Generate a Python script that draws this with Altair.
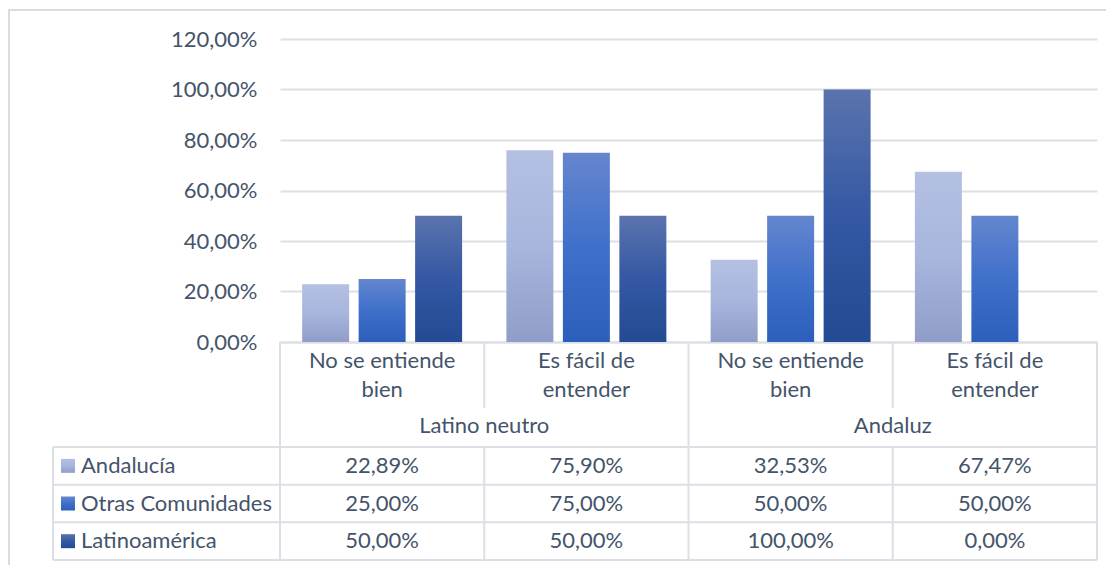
import altair as alt
import pandas as pd

# ---- data ----
groups = ["Latino neutro", "Andaluz"]
subcats = ["No se entiende|bien", "Es fácil de|entender"]
series = ["Andalucía", "Otras Comunidades", "Latinoamérica"]
andalucia = [0.2289, 0.7590, 0.3253, 0.6747]
otras = [0.25, 0.75, 0.50, 0.50]
latam = [0.50, 0.50, 1.00, 0.00]
y_ticks = [0, 0.2, 0.4, 0.6, 0.8, 1.0, 1.2]

keys = [f"{g}|{c}" for g in groups for c in subcats]
values_by_series = {"Andalucía": andalucia, "Otras Comunidades": otras, "Latinoamérica": latam}

rows = []
for s in series:
    for k, v in zip(keys, values_by_series[s]):
        rows.append({"key": k, "serie": s, "value": v})
df = pd.DataFrame(rows)

# ---- styling ----
FONT = "Lato"
FS = 22
TXT = "#44546A"
LINE = "#DCDFE5"
LW = 2

gradients = {
    "Andalucía": ["#B4C0E2", "#A8B5DD", "#8F9DC8"],
    "Otras Comunidades": ["#6586CE", "#3F70CA", "#2C5FBB"],
    "Latinoamérica": ["#5B73AD", "#3458A3", "#244A93"],
}

def grad(cols):
    return alt.Gradient(
        gradient="linear",
        stops=[alt.GradientStop(color=cols[0], offset=0),
               alt.GradientStop(color=cols[1], offset=0.5),
               alt.GradientStop(color=cols[2], offset=1)],
        x1=0, x2=0, y1=0, y2=1,
    )

W, H = 817, 303
xscale = alt.Scale(domain=keys, paddingInner=0, paddingOuter=0)
xaxis = alt.Axis(
    title=None, ticks=False, domain=True, domainColor=LINE, domainWidth=LW,
    labelAngle=0, labelExpr="slice(split(datum.value, '|'), 1)",
    labelFont=FONT, labelFontSize=FS, labelColor=TXT, labelLineHeight=29,
    labelPadding=8, labelLimit=400,
)
yscale = alt.Scale(domain=[0, 1.2])
yaxis = alt.Axis(
    title=None, values=y_ticks, grid=True, gridColor=LINE, gridWidth=LW,
    domain=False, ticks=False, labelPadding=23, labelFont=FONT,
    labelFontSize=FS, labelColor=TXT,
    labelExpr="replace(format(datum.value, '.2%'), '.', ',')",
)

def X(**kw):
    return alt.X("key:N", scale=xscale, axis=xaxis, sort=keys, **kw)

base = alt.Chart(df)

bar_layers = []
for s in series:
    bar_layers.append(
        base.transform_filter(alt.datum.serie == s)
        .mark_bar(fill=grad(gradients[s]))
        .encode(
            x=X(),
            xOffset=alt.XOffset("serie:N", scale=alt.Scale(domain=series, paddingInner=0.168, paddingOuter=0.392)),
            y=alt.Y("value:Q", scale=yscale, axis=yaxis),
        )
    )
bars = alt.layer(*bar_layers)

# ---- data table ----
row_scale = alt.Scale(domain=series, range=[408, 521], paddingInner=0, paddingOuter=0)

def RY(**kw):
    return alt.Y("serie:N", scale=row_scale, axis=None, sort=series, **kw)

table_text = (
    base.transform_calculate(label="replace(format(datum.value, '.2%'), '.', ',')")
    .mark_text(font=FONT, fontSize=FS, color=TXT, baseline="alphabetic", dy=7)
    .encode(x=X(), y=RY(), text="label:N")
)
row_labels = (
    alt.Chart(pd.DataFrame({"serie": series}))
    .mark_text(font=FONT, fontSize=FS, color=TXT, align="left", baseline="alphabetic", dy=7)
    .encode(x=alt.value(-199), y=RY(), text="serie:N")
)
swatches = []
for s in series:
    swatches.append(
        alt.Chart(pd.DataFrame({"serie": [s]}))
        .mark_square(size=196, fill=grad(gradients[s]), opacity=1)
        .encode(x=alt.value(-212), y=RY())
    )
row_lines_top = (
    alt.Chart(pd.DataFrame({"serie": series}))
    .mark_rule(color=LINE, strokeWidth=LW)
    .encode(x=alt.value(-227), x2=alt.value(W), y=RY(bandPosition=0))
)
row_line_bottom = (
    alt.Chart(pd.DataFrame({"serie": [series[-1]]}))
    .mark_rule(color=LINE, strokeWidth=LW)
    .encode(x=alt.value(-227), x2=alt.value(W), y=RY(bandPosition=1))
)
table = alt.layer(row_lines_top, row_line_bottom, table_text, row_labels, *swatches)

# ---- separators of the category axis and table columns ----
first_keys = [keys[0], keys[2]]
mid_keys = [keys[1], keys[3]]
sep_full = (
    alt.Chart(pd.DataFrame({"key": first_keys}))
    .mark_rule(color=LINE, strokeWidth=LW)
    .encode(x=X(bandPosition=0), y=alt.value(H), y2=alt.value(521))
)
sep_right = (
    alt.Chart(pd.DataFrame({"key": [keys[-1]]}))
    .mark_rule(color=LINE, strokeWidth=LW)
    .encode(x=X(bandPosition=1), y=alt.value(H), y2=alt.value(521))
)
sep_short = (
    alt.Chart(pd.DataFrame({"key": mid_keys}))
    .mark_rule(color=LINE, strokeWidth=LW)
    .encode(x=X(bandPosition=0), y=alt.value(H), y2=alt.value(369))
)
sep_table = (
    alt.Chart(pd.DataFrame({"key": mid_keys}))
    .mark_rule(color=LINE, strokeWidth=LW)
    .encode(x=X(bandPosition=0), y=alt.value(408), y2=alt.value(521))
)
table_left = (
    alt.Chart(pd.DataFrame({"a": [0]}))
    .mark_rule(color=LINE, strokeWidth=LW)
    .encode(x=alt.value(-227), y=alt.value(408), y2=alt.value(521))
)
group_labels = (
    alt.Chart(pd.DataFrame({"key": first_keys, "group": groups}))
    .mark_text(font=FONT, fontSize=FS, color=TXT, baseline="alphabetic")
    .encode(x=X(bandPosition=1), y=alt.value(394), text="group:N")
)
outer = (
    alt.Chart(pd.DataFrame({"a": [0]}))
    .mark_rect(fill=None, stroke="#D9DCE2", strokeWidth=LW)
    .encode(x=alt.value(-271), x2=alt.value(840), y=alt.value(-29), y2=alt.value(560))
)

chart = (
    alt.layer(outer, bars, table, sep_full, sep_right, sep_short, sep_table, table_left, group_labels)
    .resolve_scale(y="independent")
    .properties(
        width=W, height=H,
        autosize=alt.AutoSizeParams(type="none"),
        padding={"left": 272, "top": 31, "right": 9, "bottom": 223},
    )
    .configure_view(stroke=None)
)

chart.save("out.html", embed_options={"renderer": "svg", "actions": False})
